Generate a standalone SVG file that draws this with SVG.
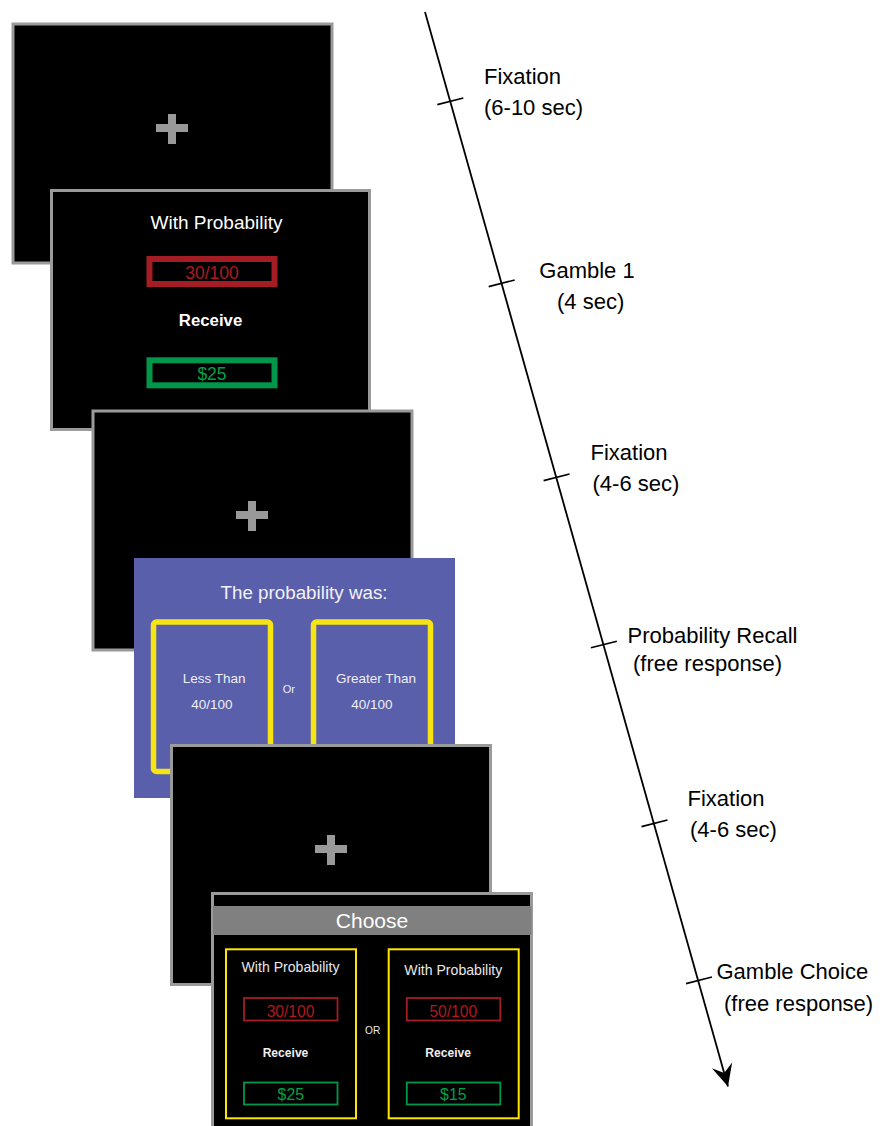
<svg xmlns="http://www.w3.org/2000/svg" width="891" height="1126" viewBox="0 0 891 1126">
<defs>
<style>
.scr{fill:#000;stroke:#9a9a9a;stroke-width:3}
.cross{fill:#999}
.t{font-family:"Liberation Sans",Arial,sans-serif}
.lbl{font-family:"Liberation Sans",Arial,sans-serif;font-size:22px;fill:#000}
.w{fill:#fff}
.red{fill:none;stroke:#a51d24}
.grn{fill:none;stroke:#00974a}
.redt{fill:#b0191f}
.grnt{fill:#00a04a}
.yel{fill:none;stroke:#f6e514}
.tick{stroke:#000;stroke-width:1.6}
</style>
<marker id="arr" markerWidth="26" markerHeight="26" viewBox="0 0 26 26" refX="23" refY="13" orient="auto" markerUnits="userSpaceOnUse">
<path d="M23,13 L1,2.5 L9,13 L1,23.5 Z" fill="#000"/>
</marker>
</defs>
<rect width="891" height="1126" fill="#fff"/>

<g id="screen1">
<rect class="scr" x="13" y="24" width="319" height="239"/>
<rect class="cross" x="156" y="124" width="32" height="8"/>
<rect class="cross" x="168" y="114" width="8" height="30"/>
</g>

<g id="screen2">
<rect class="scr" x="51.5" y="190.5" width="318" height="239"/>
<text class="t w" x="216.5" y="229" font-size="19" text-anchor="middle">With Probability</text>
<rect class="red" x="149.5" y="259" width="125" height="25" stroke-width="6"/>
<text class="t redt" x="212" y="278.5" font-size="17.5" text-anchor="middle">30/100</text>
<text class="t w" x="210.5" y="326" font-size="16.8" font-weight="bold" text-anchor="middle">Receive</text>
<rect class="grn" x="149.5" y="360.3" width="125" height="25" stroke-width="6"/>
<text class="t grnt" x="212" y="380" font-size="17.5" text-anchor="middle">$25</text>
</g>

<g id="screen3">
<rect class="scr" x="93" y="411" width="319" height="239"/>
<rect class="cross" x="236" y="511" width="32" height="8"/>
<rect class="cross" x="248" y="501" width="8" height="30"/>
</g>

<g id="screen4">
<rect x="134" y="558" width="321" height="240" fill="#5a5fab"/>
<text class="t" x="304" y="599.3" font-size="18.8" fill="#f2f2f6" text-anchor="middle">The probability was:</text>
<rect class="yel" x="153.5" y="622" width="117" height="149.5" rx="3" stroke-width="5.5"/>
<rect class="yel" x="313.5" y="622" width="117" height="149.5" rx="3" stroke-width="5.5"/>
<text class="t" x="214.2" y="683.3" font-size="13.5" fill="#eeeef4" text-anchor="middle">Less Than</text>
<text class="t" x="211.8" y="709.3" font-size="13.5" fill="#eeeef4" text-anchor="middle">40/100</text>
<text class="t" x="288.8" y="692.7" font-size="11" fill="#eeeef4" text-anchor="middle">Or</text>
<text class="t" x="376" y="683.3" font-size="13.5" fill="#eeeef4" text-anchor="middle">Greater Than</text>
<text class="t" x="371.8" y="709.3" font-size="13.5" fill="#eeeef4" text-anchor="middle">40/100</text>
</g>

<g id="screen5">
<rect class="scr" x="171.5" y="745.5" width="319" height="239"/>
<rect class="cross" x="315" y="845" width="32" height="8"/>
<rect class="cross" x="327" y="835" width="8" height="30"/>
</g>

<g id="screen6">
<rect class="scr" x="212.5" y="893.5" width="319" height="239"/>
<rect x="213" y="906" width="318.5" height="29" fill="#808080"/>
<text class="t w" x="372" y="928.3" font-size="21" text-anchor="middle">Choose</text>
<rect class="yel" x="226" y="949.3" width="130" height="169" stroke-width="2" style="stroke:#ffe600"/>
<rect class="yel" x="388.7" y="949.3" width="130" height="169" stroke-width="2" style="stroke:#ffe600"/>
<text class="t" x="290.5" y="971.7" font-size="14.1" fill="#e8e8e8" text-anchor="middle">With Probability</text>
<text class="t" x="453.3" y="975" font-size="14.1" fill="#e8e8e8" text-anchor="middle">With Probability</text>
<rect class="red" x="244" y="998" width="93.5" height="22.5" stroke-width="1.8"/>
<rect class="red" x="406.8" y="998" width="93.5" height="22.5" stroke-width="1.8"/>
<text class="t redt" x="290.5" y="1016.7" font-size="15.6" text-anchor="middle">30/100</text>
<text class="t redt" x="453.3" y="1016.7" font-size="15.6" text-anchor="middle">50/100</text>
<text class="t" x="372.7" y="1034" font-size="10.2" fill="#e8e8e8" text-anchor="middle">OR</text>
<text class="t" x="285.5" y="1056.7" font-size="12.1" font-weight="bold" fill="#eeeeee" text-anchor="middle">Receive</text>
<text class="t" x="448.2" y="1056.7" font-size="12.1" font-weight="bold" fill="#eeeeee" text-anchor="middle">Receive</text>
<rect class="grn" x="244" y="1082.5" width="93.5" height="22" stroke-width="1.8"/>
<rect class="grn" x="406.8" y="1082.5" width="93.5" height="22" stroke-width="1.8"/>
<text class="t grnt" x="290.8" y="1100" font-size="15.8" text-anchor="middle">$25</text>
<text class="t grnt" x="453.3" y="1100" font-size="15.8" text-anchor="middle">$15</text>
</g>

<g id="connectors">
<line x1="425" y1="12" x2="728" y2="1086.5" stroke="#000" stroke-width="1.8" marker-end="url(#arr)"/>
<line class="tick" x1="437.3" y1="104.6" x2="463.3" y2="98"/>
<line class="tick" x1="488.7" y1="286.6" x2="514.7" y2="280"/>
<line class="tick" x1="543.6" y1="480.6" x2="569.6" y2="474"/>
<line class="tick" x1="590.9" y1="647.8" x2="616.9" y2="641.2"/>
<line class="tick" x1="641.5" y1="826.6" x2="667.5" y2="820"/>
<line class="tick" x1="686" y1="983.6" x2="712" y2="977"/>
</g>

<g id="labels">
<text class="lbl" x="484" y="83.5">Fixation</text>
<text class="lbl" x="484" y="115">(6-10 sec)</text>
<text class="lbl" x="539.3" y="278">Gamble 1</text>
<text class="lbl" x="557" y="309">(4 sec)</text>
<text class="lbl" x="590.5" y="460">Fixation</text>
<text class="lbl" x="592.5" y="490.5">(4-6 sec)</text>
<text class="lbl" x="627.5" y="642.5">Probability Recall</text>
<text class="lbl" x="633" y="671">(free response)</text>
<text class="lbl" x="687.5" y="806">Fixation</text>
<text class="lbl" x="690" y="837">(4-6 sec)</text>
<text class="lbl" x="716.5" y="979">Gamble Choice</text>
<text class="lbl" x="724" y="1010.5">(free response)</text>
</g>
</svg>
